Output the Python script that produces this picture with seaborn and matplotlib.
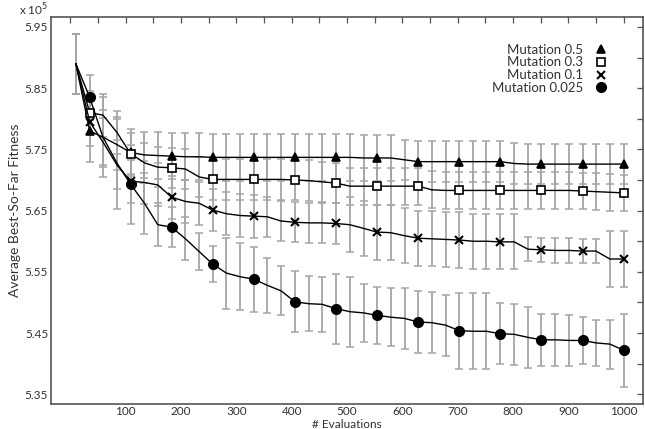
import matplotlib
matplotlib.use("Agg")
import matplotlib.pyplot as plt
from matplotlib.lines import Line2D
import seaborn as sns
import pandas as pd

# ---- data (fitness in units of 1e5) ----
evaluations = [10, 35, 59, 84, 109, 134, 158, 183, 208, 233, 257, 282, 307, 332,
               356, 381, 406, 431, 455, 480, 505, 530, 554, 579, 604, 629, 653,
               678, 703, 728, 752, 777, 802, 827, 851, 876, 901, 926, 950, 975, 1000]

mut_05 = [5.890, 5.780, 5.770, 5.758, 5.745, 5.741, 5.740, 5.739, 5.738, 5.738,
          5.737, 5.737, 5.737, 5.737, 5.737, 5.737, 5.737, 5.737, 5.737, 5.737,
          5.737, 5.736, 5.736, 5.736, 5.733, 5.730, 5.730, 5.730, 5.730, 5.730,
          5.730, 5.730, 5.727, 5.726, 5.726, 5.726, 5.726, 5.726, 5.726, 5.726, 5.726]
err_05 = [0.049, 0.050, 0.045, 0.042, 0.038, 0.038, 0.038, 0.038, 0.038, 0.038,
          0.038, 0.038, 0.038, 0.038, 0.038, 0.038, 0.038, 0.038, 0.038, 0.038,
          0.038, 0.038, 0.038, 0.038, 0.033, 0.033, 0.033, 0.033, 0.033, 0.033,
          0.033, 0.033, 0.033, 0.033, 0.033, 0.033, 0.033, 0.033, 0.033, 0.033, 0.033]

mut_03 = [5.890, 5.810, 5.806, 5.778, 5.743, 5.728, 5.721, 5.720, 5.718, 5.705,
          5.701, 5.701, 5.701, 5.701, 5.701, 5.701, 5.700, 5.699, 5.697, 5.695,
          5.690, 5.690, 5.690, 5.690, 5.690, 5.690, 5.684, 5.683, 5.683, 5.683,
          5.683, 5.683, 5.683, 5.683, 5.683, 5.683, 5.683, 5.682, 5.681, 5.680, 5.679]
err_03 = [0.049, 0.035, 0.035, 0.035, 0.033, 0.033, 0.033, 0.033, 0.033, 0.033,
          0.033, 0.033, 0.033, 0.033, 0.033, 0.033, 0.033, 0.033, 0.033, 0.033,
          0.030, 0.030, 0.030, 0.030, 0.030, 0.030, 0.030, 0.030, 0.030, 0.030,
          0.030, 0.030, 0.030, 0.030, 0.030, 0.030, 0.030, 0.030, 0.030, 0.030, 0.030]

mut_01 = [5.890, 5.795, 5.762, 5.725, 5.698, 5.696, 5.692, 5.672, 5.665, 5.662,
          5.651, 5.645, 5.642, 5.641, 5.640, 5.633, 5.631, 5.630, 5.630, 5.629,
          5.627, 5.621, 5.615, 5.614, 5.609, 5.605, 5.604, 5.603, 5.602, 5.600,
          5.600, 5.599, 5.599, 5.587, 5.586, 5.585, 5.585, 5.584, 5.584, 5.571, 5.571]
err_01 = [0.049, 0.040, 0.040, 0.040, 0.035, 0.035, 0.035, 0.035, 0.035, 0.035,
          0.035, 0.035, 0.035, 0.035, 0.033, 0.033, 0.033, 0.033, 0.033, 0.033,
          0.045, 0.045, 0.045, 0.045, 0.045, 0.045, 0.045, 0.045, 0.045, 0.045,
          0.045, 0.045, 0.045, 0.020, 0.020, 0.020, 0.020, 0.020, 0.020, 0.045, 0.045]

mut_0025 = [5.890, 5.835, 5.770, 5.728, 5.693, 5.662, 5.627, 5.623, 5.604, 5.583,
            5.563, 5.548, 5.542, 5.538, 5.528, 5.519, 5.501, 5.498, 5.497, 5.490,
            5.485, 5.483, 5.479, 5.476, 5.474, 5.468, 5.467, 5.463, 5.454, 5.453,
            5.453, 5.449, 5.448, 5.443, 5.439, 5.439, 5.438, 5.438, 5.434, 5.432, 5.422]
err_0025 = [0.049, 0.037, 0.065, 0.075, 0.065, 0.050, 0.035, 0.033, 0.035, 0.030,
            0.030, 0.058, 0.055, 0.053, 0.045, 0.040, 0.050, 0.045, 0.045, 0.057,
            0.057, 0.047, 0.047, 0.047, 0.050, 0.050, 0.050, 0.050, 0.062, 0.062,
            0.062, 0.050, 0.050, 0.050, 0.042, 0.042, 0.042, 0.038, 0.038, 0.040, 0.060]

series_labels = ["Mutation 0.5", "Mutation 0.3", "Mutation 0.1", "Mutation 0.025"]
x_ticks = [0, 50, 100, 150, 200, 250, 300, 350, 400, 450, 500, 550, 600, 650, 700,
           750, 800, 850, 900, 950, 1000]
x_ticklabels = ["", "", "100", "", "200", "", "300", "", "400", "", "500", "", "600",
                "", "700", "", "800", "", "900", "", "1000"]
y_ticks = [5.35, 5.40, 5.45, 5.50, 5.55, 5.60, 5.65, 5.70, 5.75, 5.80, 5.85, 5.90, 5.95]
y_ticklabels = ["5.35", "", "5.45", "", "5.55", "", "5.65", "", "5.75", "", "5.85", "", "5.95"]

# ---- styling ----
sns.set_style("white")
plt.rcParams["font.family"] = ["Lato", "DejaVu Sans"]
text_color = "#333333"

fig = plt.figure(figsize=(6.45, 4.29), dpi=100)
ax = fig.add_axes([0.079, 0.058, 0.918, 0.902])

means = [mut_05, mut_03, mut_01, mut_0025]
errs = [err_05, err_03, err_01, err_0025]
markers = ["^", "s", "x", "o"]
msizes = [6.0, 5.8, 6.0, 6.8]
mfaces = ["black", "white", "black", "black"]

frames = []
for lab, m, e in zip(series_labels, means, errs):
    frames.append(pd.DataFrame({"evals": evaluations, "fitness": m, "err": e, "series": lab}))
df = pd.concat(frames, ignore_index=True)

# error bars (gray) first
for lab in series_labels:
    d = df[df.series == lab]
    ax.errorbar(d.evals, d.fitness, yerr=d.err, fmt="none", ecolor="#a5a5a5",
                elinewidth=1.3, capsize=3.0, capthick=1.1, zorder=1)

# lines with markers every third point
for lab, mk, ms, mf in zip(series_labels, markers, msizes, mfaces):
    d = df[df.series == lab]
    sns.lineplot(data=d, x="evals", y="fitness", ax=ax, color="black", linewidth=1.0,
                 marker=mk, markersize=ms, markerfacecolor=mf, markeredgecolor="black",
                 markeredgewidth=1.2 if mk != "x" else 1.5,
                 markevery=slice(1, None, 3), zorder=3, legend=False)

ax.set_xlim(-35, 1035)
ax.set_ylim(5.334, 5.966)
ax.set_xticks(x_ticks)
ax.set_xticklabels(x_ticklabels)
ax.set_yticks(y_ticks)
ax.set_yticklabels(y_ticklabels)
ax.tick_params(direction="in", top=True, right=True, length=4, width=0.9,
               colors="#555555", labelcolor=text_color, labelsize=8.5, pad=2)
ax.tick_params(axis="x", pad=1)
for s in ax.spines.values():
    s.set_color("#555555")
    s.set_linewidth(1.2)

ax.set_xlabel("# Evaluations", fontsize=8.5, color=text_color)
ax.xaxis.set_label_coords(0.5, -0.038)
ax.set_ylabel("Average Best-So-Far Fitness", fontsize=10, color=text_color, labelpad=3)
fig.text(0.030, 0.958, "x 10$^{5}$", fontsize=8.5, color=text_color, ha="left", va="bottom")

handles = [Line2D([], [], linestyle="none", marker=mk, markersize=ms,
                  markerfacecolor=mf, markeredgecolor="black",
                  markeredgewidth=1.2 if mk != "x" else 1.5)
           for mk, ms, mf in zip(markers, msizes, mfaces)]
leg = ax.legend(handles, series_labels, loc="upper right", bbox_to_anchor=(0.955, 0.955),
                frameon=False, markerfirst=False, handlelength=1.0, handletextpad=0.8,
                labelspacing=0.05, fontsize=9.5, borderpad=0.2)
for t in leg.get_texts():
    t.set_color(text_color)

fig.savefig("out.png", dpi=100)
